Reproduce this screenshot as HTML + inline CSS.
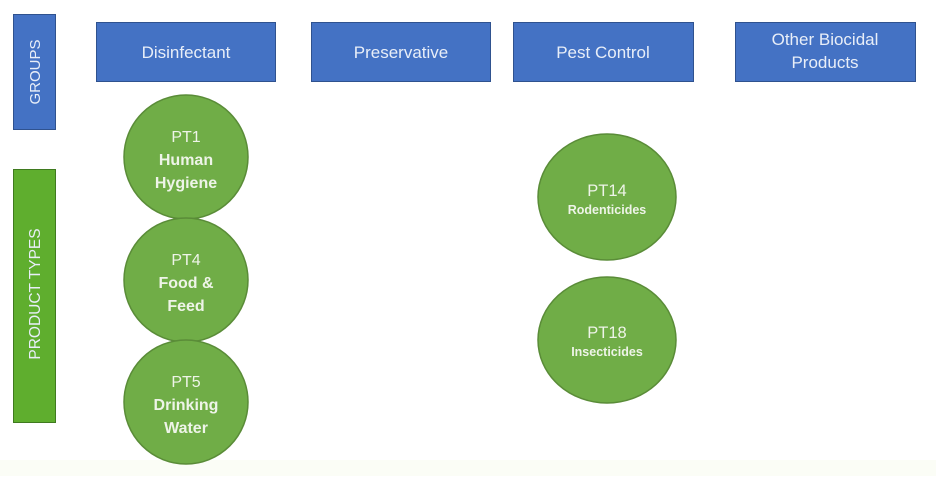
<!DOCTYPE html>
<html><head><meta charset="utf-8"><style>
html,body{margin:0;padding:0;background:#fff;}
body{width:936px;height:476px;overflow:hidden;position:relative;font-family:"Liberation Sans",sans-serif;}
</style></head><body>
<svg width="936" height="476" viewBox="0 0 936 476" xmlns="http://www.w3.org/2000/svg" font-family="Liberation Sans, sans-serif">
<rect x="0" y="460" width="936" height="16" fill="#fbfdf6"/>
<g fill="#4472c4" stroke="#2f528f" stroke-width="1">
<rect x="13.5" y="14.5" width="42" height="115"/>
<rect x="96.5" y="22.5" width="179" height="59"/>
<rect x="311.5" y="22.5" width="179" height="59"/>
<rect x="513.5" y="22.5" width="180" height="59"/>
<rect x="735.5" y="22.5" width="180" height="59"/>
</g>
<rect x="13.5" y="169.5" width="42" height="253" fill="#5fae2e" stroke="#3f7a1f"/>
<g fill="#e8eef8" font-size="17" text-anchor="middle">
<text x="186" y="58">Disinfectant</text>
<text x="401" y="58">Preservative</text>
<text x="603" y="58">Pest Control</text>
<text x="825" y="45">Other Biocidal</text>
<text x="825" y="68">Products</text>
<text transform="translate(40,72) rotate(-90)" font-size="15">GROUPS</text>
<text transform="translate(40,294) rotate(-90)" font-size="15.5">PRODUCT TYPES</text>
</g>
<g fill="#70ad47" stroke="#5a8c38" stroke-width="1.5">
<circle cx="186" cy="157" r="62"/>
<circle cx="186" cy="280" r="62"/>
<circle cx="186" cy="402" r="62"/>
<ellipse cx="607" cy="197" rx="69" ry="63"/>
<ellipse cx="607" cy="340" rx="69" ry="63"/>
</g>
<g fill="#eef4e8" font-size="16" text-anchor="middle">
<text x="186" y="142">PT1</text>
<text x="186" y="165" font-weight="bold">Human</text>
<text x="186" y="188" font-weight="bold">Hygiene</text>
<text x="186" y="265">PT4</text>
<text x="186" y="288" font-weight="bold">Food &amp;</text>
<text x="186" y="311" font-weight="bold">Feed</text>
<text x="186" y="387">PT5</text>
<text x="186" y="410" font-weight="bold">Drinking</text>
<text x="186" y="433" font-weight="bold">Water</text>
<text x="607" y="196" font-size="16.5">PT14</text>
<text x="607" y="214" font-size="12.5" font-weight="bold">Rodenticides</text>
<text x="607" y="338" font-size="16.5">PT18</text>
<text x="607" y="356" font-size="12.5" font-weight="bold">Insecticides</text>
</g>
</svg>
</body></html>
